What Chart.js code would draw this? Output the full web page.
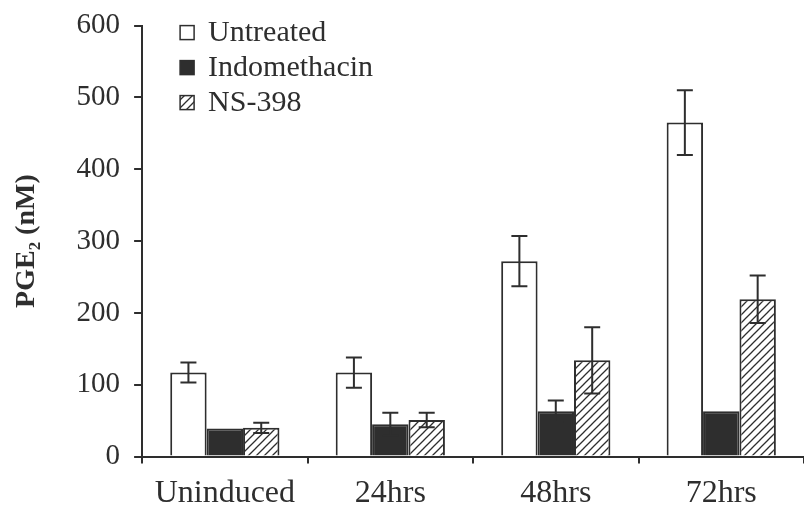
<!DOCTYPE html>
<html>
<head>
<meta charset="utf-8">
<script src="https://cdn.jsdelivr.net/npm/chart.js@4.4.1/dist/chart.umd.min.js"></script>
<style>
  html, body { margin: 0; padding: 0; background: #fff; }
  #wrap { width: 804px; height: 511px; }
</style>
</head>
<body>
<div id="wrap"><canvas id="pge2Chart" width="804" height="511"></canvas></div>
<script>
var groups = ["Uninduced", "24hrs", "48hrs", "72hrs"];
var seriesNames = ["Untreated", "Indomethacin", "NS-398"];
var untreated = [117, 117, 272, 465];
var indomethacin = [39, 45, 63, 63];
var ns398 = [40, 51, 134, 219];
// +/- error (0 = no bar drawn)
var untreatedErr = [14, 21, 35, 45];
var indomethacinErr = [0, 16, 15, 0];
var ns398Err = [7, 10, 46, 33];
var yTicks = [0, 100, 200, 300, 400, 500, 600];

var ink = "#2e2e2e";
var serif = "'Liberation Serif', 'Times New Roman', serif";

function hatch() {
    var c = document.createElement("canvas");
    c.width = 8; c.height = 8;
    var g = c.getContext("2d");
    g.fillStyle = "#fff";
    g.fillRect(0, 0, 8, 8);
    g.strokeStyle = ink;
    g.lineWidth = 1.3;
    g.beginPath();
    g.moveTo(-2, 10); g.lineTo(10, -2);
    g.moveTo(-2, 2); g.lineTo(2, -2);
    g.moveTo(6, 10); g.lineTo(10, 6);
    g.stroke();
    return g.createPattern(c, "repeat");
}

var errorBars = {
    id: "errorBars",
    afterDatasetsDraw: function(chart) {
        var ctx = chart.ctx;
        var y = chart.scales.y;
        ctx.save();
        ctx.strokeStyle = ink;
        ctx.lineWidth = 2;
        chart.data.datasets.forEach(function(ds, i) {
            var meta = chart.getDatasetMeta(i);
            meta.data.forEach(function(bar, j) {
                var e = ds.errors[j];
                if (!e) return;
                var top = y.getPixelForValue(ds.data[j] + e);
                var bot = y.getPixelForValue(ds.data[j] - e);
                ctx.beginPath();
                ctx.moveTo(bar.x, top); ctx.lineTo(bar.x, bot);
                ctx.moveTo(bar.x - 8, top); ctx.lineTo(bar.x + 8, top);
                ctx.moveTo(bar.x - 8, bot); ctx.lineTo(bar.x + 8, bot);
                ctx.stroke();
            });
        });
        ctx.restore();
    }
};

var boxLegend = {
    id: "boxLegend",
    afterDraw: function(chart) {
        var ctx = chart.ctx;
        var left = chart.chartArea.left + 38;
        var top = chart.chartArea.top + 7;
        ctx.save();
        ctx.font = "30px " + serif;
        ctx.textBaseline = "middle";
        chart.data.datasets.forEach(function(ds, i) {
            var cy = top + i * 35;
            ctx.fillStyle = ds.backgroundColor;
            ctx.fillRect(left, cy - 7, 14, 14);
            ctx.strokeStyle = ink;
            ctx.lineWidth = 1.5;
            ctx.strokeRect(left, cy - 7, 14, 14);
            ctx.fillStyle = ink;
            ctx.fillText(ds.label, left + 28, cy + 1);
        });
        ctx.restore();
    }
};

var chartData = {
    labels: groups,
    datasets: [{
        label: seriesNames[0],
        data: untreated,
        errors: untreatedErr,
        backgroundColor: "#ffffff",
        borderColor: ink,
        borderWidth: 2
    }, {
        label: seriesNames[1],
        data: indomethacin,
        errors: indomethacinErr,
        backgroundColor: ink,
        borderColor: ink,
        borderWidth: 2
    }, {
        label: seriesNames[2],
        data: ns398,
        errors: ns398Err,
        backgroundColor: hatch(),
        borderColor: ink,
        borderWidth: 2
    }]
};

var ctx = document.getElementById("pge2Chart").getContext("2d");
window.pgeChart = new Chart(ctx, {
    type: "bar",
    data: chartData,
    plugins: [errorBars, boxLegend],
    options: {
        responsive: false,
        animation: false,
        layout: {
            padding: { left: 10, right: -10, top: 4, bottom: -13 }
        },
        datasets: {
            bar: { categoryPercentage: 0.66, barPercentage: 1.0 }
        },
        plugins: {
            legend: { display: false },
            tooltip: { enabled: false }
        },
        scales: {
            x: {
                grid: {
                    offset: true,
                    drawOnChartArea: false,
                    tickLength: 7,
                    color: ink,
                    lineWidth: 2
                },
                border: { color: ink, width: 2 },
                ticks: {
                    color: ink,
                    padding: 11,
                    font: { family: serif, size: 32 }
                }
            },
            y: {
                min: 0,
                max: 600,
                afterBuildTicks: function(axis) {
                    axis.ticks = yTicks.map(function(v) { return { value: v }; });
                },
                grid: {
                    drawOnChartArea: false,
                    tickLength: 8,
                    color: ink,
                    lineWidth: 2
                },
                border: { color: ink, width: 2 },
                ticks: {
                    color: ink,
                    padding: 14,
                    font: { family: serif, size: 29, lineHeight: 0.8 }
                },
                title: {
                    display: true,
                    text: "PGE\u2082 (nM)",
                    color: ink,
                    padding: { top: 0, bottom: 19 },
                    font: { family: serif, size: 28, weight: "bold" }
                }
            }
        }
    }
});
</script>
</body>
</html>
